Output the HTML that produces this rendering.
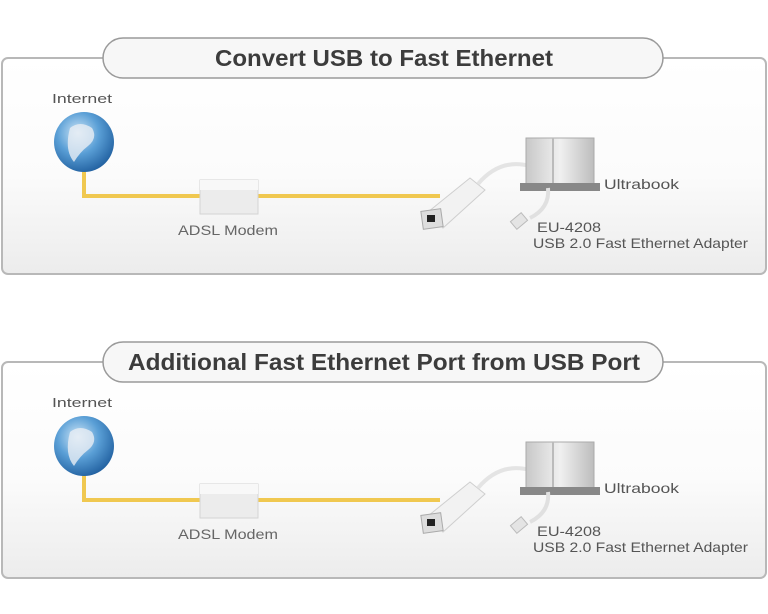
<!DOCTYPE html>
<html><head><meta charset="utf-8"><style>
html,body{margin:0;padding:0;background:#fff;}
svg{display:block;}
text{font-family:"Liberation Sans",sans-serif;}
</style></head><body>
<svg width="768" height="614" viewBox="0 0 768 614" xmlns="http://www.w3.org/2000/svg">
<defs>
<linearGradient id="bg" x1="0" y1="0" x2="0" y2="1">
<stop offset="0" stop-color="#ffffff"/><stop offset="0.55" stop-color="#fbfbfb"/><stop offset="1" stop-color="#ececec"/>
</linearGradient>
<radialGradient id="gl" cx="0.4" cy="0.35" r="0.7">
<stop offset="0" stop-color="#cfe6f7"/><stop offset="0.5" stop-color="#5a9fd6"/><stop offset="1" stop-color="#1f5e9e"/>
</radialGradient>
<linearGradient id="lap" x1="0" y1="0" x2="1" y2="0">
<stop offset="0" stop-color="#c8c8c8"/><stop offset="0.5" stop-color="#f0f0f0"/><stop offset="1" stop-color="#bdbdbd"/>
</linearGradient>
<g id="panel">
<rect x="2" y="20" width="764" height="216" rx="6" fill="url(#bg)" stroke="#b8b8b8" stroke-width="2"/>
<rect x="103" y="0" width="560" height="40" rx="20" fill="#f7f7f7" stroke="#9a9a9a" stroke-width="1.5"/>
<text x="52" y="65" font-size="13" fill="#555" textLength="60" lengthAdjust="spacingAndGlyphs">Internet</text>
<path d="M84 105 V158 H440" fill="none" stroke="#f0c850" stroke-width="4"/>
<circle cx="84" cy="104" r="30" fill="url(#gl)"/>
<path d="M70 90 q10 -8 22 0 q6 10 -4 18 q-8 6 -14 16 q-10 -12 -4 -34z" fill="#e8eef4" opacity="0.8"/>
<rect x="200" y="142" width="58" height="34" fill="#ececec" stroke="#d4d4d4"/>
<rect x="200" y="142" width="58" height="10" fill="#f8f8f8"/>
<text x="178" y="197" font-size="14" fill="#666" textLength="100" lengthAdjust="spacingAndGlyphs">ADSL Modem</text>
<path d="M428 174 L470 140 L485 152 L443 190 Z" fill="#f2f2f2" stroke="#cfcfcf"/>
<rect x="422" y="172" width="20" height="18" fill="#ddd" stroke="#aaa" transform="rotate(-8 432 181)"/>
<rect x="427" y="177" width="8" height="7" fill="#222"/>
<path d="M478 146 Q500 120 530 128" fill="none" stroke="#e4e4e4" stroke-width="4"/>
<rect x="526" y="100" width="68" height="48" fill="url(#lap)" stroke="#aaa"/>
<rect x="552" y="100" width="2" height="48" fill="#bbb"/>
<rect x="520" y="145" width="80" height="8" fill="#888"/>
<path d="M548 150 Q550 170 530 180" fill="none" stroke="#e0e0e0" stroke-width="4"/>
<rect x="512" y="178" width="14" height="10" fill="#e4e4e4" stroke="#bbb" transform="rotate(-40 519 183)"/>
<text x="604" y="151" font-size="14" fill="#555" textLength="75" lengthAdjust="spacingAndGlyphs">Ultrabook</text>
<text x="537" y="194" font-size="14" fill="#555" textLength="64" lengthAdjust="spacingAndGlyphs">EU-4208</text>
<text x="533" y="210" font-size="14" fill="#555" textLength="215" lengthAdjust="spacingAndGlyphs">USB 2.0 Fast Ethernet Adapter</text>
</g>
</defs>
<use href="#panel" x="0" y="38"/>
<text x="384" y="66" font-size="23" font-weight="bold" fill="#3c3c3c" text-anchor="middle" textLength="338" lengthAdjust="spacingAndGlyphs">Convert USB to Fast Ethernet</text>
<use href="#panel" x="0" y="342"/>
<text x="384" y="370" font-size="23" font-weight="bold" fill="#3c3c3c" text-anchor="middle" textLength="512" lengthAdjust="spacingAndGlyphs">Additional Fast Ethernet Port from USB Port</text>
</svg>
</body></html>
